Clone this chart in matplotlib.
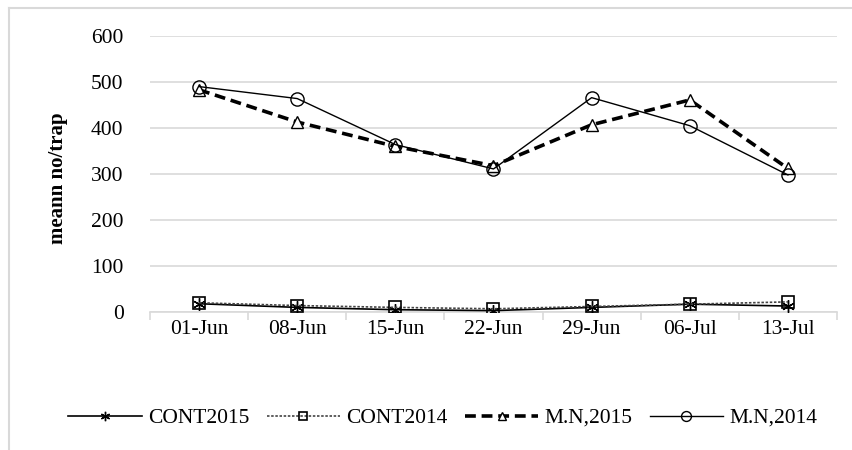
import numpy as np
import matplotlib
matplotlib.use("Agg")
import matplotlib.pyplot as plt
from matplotlib.lines import Line2D

plt.rcParams['font.family'] = ['Liberation Serif', 'DejaVu Serif']

dates = ['01-Jun', '08-Jun', '15-Jun', '22-Jun', '29-Jun', '06-Jul', '13-Jul']
cont2015 = [18, 10, 5, 3, 10, 17, 13]
cont2014 = [20, 14, 10, 7, 12, 17, 22]
mn2015 = [483, 413, 360, 318, 407, 461, 312]
mn2014 = [490, 464, 364, 311, 466, 405, 298]

fig = plt.figure(figsize=(8.53, 4.5), dpi=100)
ax = fig.add_axes([150 / 853, 1 - 312 / 450, (837 - 150) / 853, (312 - 36) / 450])

x = np.arange(len(dates))
ax.plot(x, cont2015, color='black', lw=1.2, marker=(6, 2, 0), ms=9, mew=1.0,
        label='CONT2015', zorder=3)
ax.plot(x, cont2014, color='#444444', lw=1.2, ls=(0, (1.5, 1)), marker='s', ms=8,
        mfc='none', mec='black', mew=1.2, label='CONT2014', zorder=3)
ax.plot(x, mn2015, color='black', lw=2.6, ls=(0, (3, 1.6)), marker='^', ms=8.5,
        mfc='white', mec='black', mew=1.0, label='M.N,2015', zorder=3)
ax.plot(x, mn2014, color='black', lw=1.0, marker='o', ms=9.5, mfc='none',
        mec='black', mew=1.0, label='M.N,2014', zorder=4)

ax.set_xlim(-0.5, len(dates) - 0.5)
ax.set_ylim(0, 600)
ax.set_yticks(np.arange(0, 601, 100))
ax.set_xticks(x)
ax.set_xticklabels(dates)
ax.set_xticks(np.arange(-0.5, len(dates), 1), minor=True)
ax.tick_params(axis='x', which='major', length=0, pad=6, labelsize=15.5)
ax.tick_params(axis='x', which='minor', length=6, color='#d9d9d9', width=1.2)
ax.tick_params(axis='y', length=0, pad=19, labelsize=15.5)
ax.grid(axis='y', color='#d9d9d9', lw=1.2)
ax.set_axisbelow(True)
for s in ['top', 'right', 'left']:
    ax.spines[s].set_visible(False)
ax.spines['bottom'].set_color('#d9d9d9')
ax.spines['bottom'].set_linewidth(1.2)

fig.text(58 / 853, 1 - 178 / 450, 'meann no/trap', rotation=90, ha='center',
         va='center', fontsize=15, fontweight='bold')

fig.legend(loc='center', bbox_to_anchor=(443 / 853, 1 - 418 / 450), ncol=4,
           frameon=False, fontsize=15.5, handlelength=3.4, handletextpad=0.3,
           columnspacing=0.8, markerscale=0.75)

# outer chart frame (left and top edges visible)
fig.add_artist(Line2D([9 / 853, 9 / 853], [0, 1 - 8 / 450], color='#d9d9d9', lw=1.5,
                      transform=fig.transFigure))
fig.add_artist(Line2D([9 / 853, 1], [1 - 8 / 450, 1 - 8 / 450], color='#d9d9d9', lw=1.5,
                      transform=fig.transFigure))

fig.savefig('out.png', dpi=100)
